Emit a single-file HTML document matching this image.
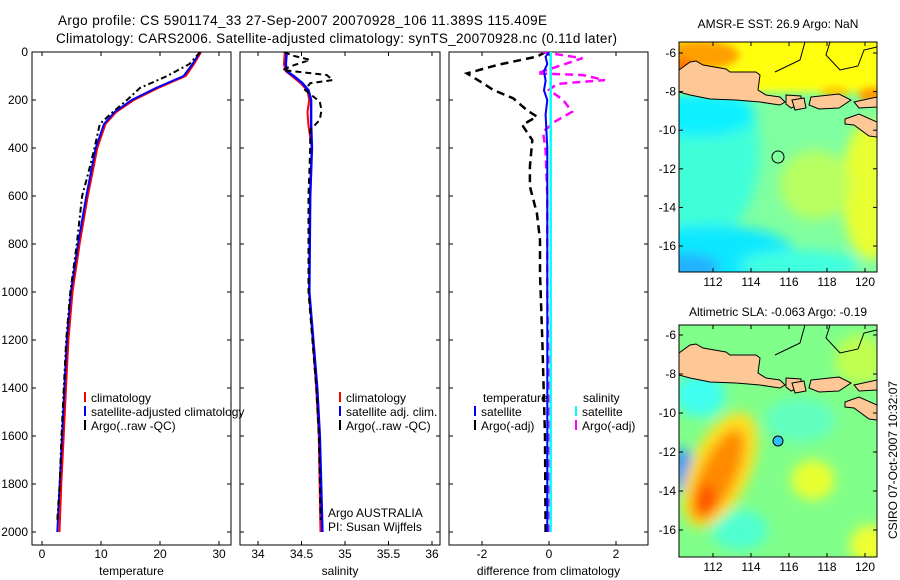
<!DOCTYPE html>
<html><head><meta charset="utf-8"><style>
html,body{margin:0;padding:0;background:#fff;}
svg{display:block;font-family:"Liberation Sans",sans-serif;}
</style></head><body>
<svg id="fig" width="900" height="580" viewBox="0 0 900 580">
<defs>
<clipPath id="c1"><rect x="32" y="52" width="199" height="493"/></clipPath>
<clipPath id="c2"><rect x="240" y="52" width="200" height="493"/></clipPath>
<clipPath id="c3"><rect x="449" y="52" width="199" height="493"/></clipPath>
<clipPath id="cm1"><rect x="679" y="42" width="198" height="230"/></clipPath>
<clipPath id="cm2"><rect x="679" y="325" width="198" height="232"/></clipPath>
<filter id="bl" x="-20%" y="-20%" width="140%" height="140%"><feGaussianBlur stdDeviation="6"/></filter>
<filter id="bl2" x="-20%" y="-20%" width="140%" height="140%"><feGaussianBlur stdDeviation="4"/></filter>
</defs>
<text x="58" y="25" font-size="13.5" textLength="489">Argo profile: CS 5901174_33 27-Sep-2007 20070928_106 11.389S 115.409E</text>
<text x="56" y="43" font-size="13.5" textLength="561">Climatology: CARS2006. Satellite-adjusted climatology: synTS_20070928.nc (0.11d later)</text>

<!-- SST map -->
<g>
<g clip-path="url(#cm1)">
<rect x="679" y="42" width="198" height="230" fill="#80ffa0"/>
<g filter="url(#bl)">
<ellipse cx="705" cy="150" rx="55" ry="90" fill="#40ffd8"/>
<ellipse cx="700" cy="115" rx="55" ry="22" fill="#10f0ff"/>
<ellipse cx="710" cy="255" rx="85" ry="30" fill="#10e8ff"/>
<ellipse cx="690" cy="268" rx="30" ry="14" fill="#20b0ff"/>
<ellipse cx="870" cy="190" rx="28" ry="70" fill="#e8ff30"/>
<ellipse cx="815" cy="185" rx="35" ry="35" fill="#b8ff60"/>
<ellipse cx="800" cy="265" rx="60" ry="15" fill="#40ffe0"/>
</g>
<g filter="url(#bl2)">
<rect x="660" y="30" width="240" height="62" fill="#ffff10"/>
<ellipse cx="700" cy="55" rx="40" ry="15" fill="#ffa000"/>
<ellipse cx="683" cy="70" rx="10" ry="12" fill="#ff7000"/>
<ellipse cx="872" cy="95" rx="14" ry="8" fill="#ff9a00"/>
<ellipse cx="835" cy="92" rx="15" ry="5" fill="#ffc000"/>
</g>
<g id="land1" fill="#fdc896" stroke="#000" stroke-width="1">
<polygon points="679,70 690,62 696,61 703,65 726,69 730,72 756,72 760,75 758,90 766,95 780,97 785,102 780,105 773,104 760,102 736,100 710,99 690,95 679,92"/>
<polygon points="786,95 801,96 801,104 791,108 786,104"/>
<polygon points="792,100 804,98 806,108 795,110"/>
<polygon points="811,97 839,94 851,100 839,108 819,109 809,105"/>
<polygon points="854,102 877,97 877,107 859,108"/>
<polygon points="845,119 859,114 877,122 877,137 869,136 854,125 845,124"/>
<polyline fill="none" points="805,42 800,60 775,72"/>
<polyline fill="none" points="830,42 826,55 840,70 858,66 864,50 877,47"/>
</g>
</g>
<rect x="679" y="42" width="198" height="230" fill="none" stroke="#000"/>
<circle cx="778" cy="157" r="6" fill="none" stroke="#000"/>
<text x="778" y="28" font-size="12" text-anchor="middle">AMSR-E SST: 26.9 Argo: NaN</text>
</g>

<!-- SLA map -->
<g>
<g clip-path="url(#cm2)">
<rect x="679" y="325" width="198" height="232" fill="#80ff8a"/>
<g filter="url(#bl)">
<ellipse cx="700" cy="395" rx="25" ry="22" fill="#40fff0"/>
<ellipse cx="683" cy="470" rx="10" ry="22" fill="#2090ff"/>
<ellipse cx="740" cy="530" rx="28" ry="20" fill="#50ffd0"/>
<ellipse cx="800" cy="420" rx="35" ry="22" fill="#60ffc0"/>
<ellipse cx="720" cy="470" rx="30" ry="62" transform="rotate(25 720 470)" fill="#ffe020"/>
<ellipse cx="718" cy="475" rx="18" ry="50" transform="rotate(25 718 475)" fill="#ff8a00"/>
<ellipse cx="706" cy="500" rx="10" ry="16" fill="#ff5000"/>
<ellipse cx="813" cy="480" rx="22" ry="20" fill="#e8ff30"/>
<ellipse cx="870" cy="545" rx="20" ry="20" fill="#f0ff30"/>
<ellipse cx="860" cy="360" rx="25" ry="25" fill="#c0ff50"/>
</g>
<use href="#land1" transform="translate(0,283)"/>
</g>
<rect x="679" y="325" width="198" height="232" fill="none" stroke="#000"/>
<circle cx="778" cy="441" r="5" fill="#30c0ff" stroke="#000"/>
<text x="778" y="316" font-size="12" text-anchor="middle">Altimetric SLA: -0.063 Argo: -0.19</text>
</g>
<text transform="translate(897,460) rotate(-90)" font-size="12" text-anchor="middle">CSIRO 07-Oct-2007 10:32:07</text>
</svg>
<script>
// ---- data ----
const depthTicks=[0,200,400,600,800,1000,1200,1400,1600,1800,2000];
const tempTicks=[0,10,20,30];
const salTicks=[34,34.5,35,35.5,36];
const diffTicks=[-2,0,2];
const sstLatTicks=[-6,-8,-10,-12,-14,-16];
const slaLatTicks=[-6,-8,-10,-12,-14,-16];
const lonTicks=[112,114,116,118,120];

const climDepth=[0,50,100,150,200,250,300,400,500,600,800,1000,1200,1400,1600,1800,2000];
const climTemp=[26.8,25.6,24.2,19.5,15.4,12.4,10.6,9.2,8.4,7.6,6.2,5.0,4.3,3.9,3.5,3.1,2.8];
const satTemp=[26.8,25.5,24.0,19.3,15.2,12.3,10.5,9.1,8.3,7.5,6.1,4.9,4.2,3.8,3.4,3.0,2.6];
const argoDepth=[0,50,100,150,200,250,300,400,500,600,800,1000,1200,1400,1600,1800,1950];
const argoTemp=[26.8,25.0,21.2,16.6,14.4,12.0,9.8,8.9,7.9,6.8,5.9,4.8,4.1,3.7,3.3,3.0,2.6];

const salDepth=[0,50,80,100,130,160,200,250,300,400,600,1000,1400,1600,2000];
const climSal=[34.32,34.31,34.33,34.40,34.50,34.58,34.60,34.58,34.59,34.63,34.61,34.60,34.68,34.71,34.73];
const satSal=[34.33,34.32,34.33,34.41,34.51,34.58,34.61,34.61,34.61,34.62,34.60,34.59,34.68,34.71,34.74];
const argoSalDepth=[0,15,33,54,75,96,117,130,158,207,242,283,325,400,600,1000,1400,1600,1950];
const argoSal=[34.30,34.40,34.60,34.42,34.28,34.79,34.86,34.60,34.54,34.71,34.73,34.71,34.60,34.60,34.58,34.58,34.67,34.70,34.72];

const diffDepth=[0,19,54,89,130,158,193,242,269,304,367,478,561,672,783,922,1200,1600,2000];
const tDiffArgo=[-0.1,-0.36,-1.55,-2.45,-1.97,-1.67,-1.07,-0.66,-0.36,-0.8,-0.5,-0.57,-0.57,-0.36,-0.27,-0.27,-0.2,-0.12,-0.1];
const sDiffDepth=[0,26,47,89,96,117,133,158,200,249,290,332,408,600,1000,1500,2000];
const sDiffArgo=[-0.2,1.0,0.54,-0.36,1.0,1.67,0.24,0.0,0.42,0.69,0.18,-0.18,-0.1,-0.05,-0.05,0.0,0.0];
const tDiffSatDepth=[0,20,50,80,120,160,200,260,400,2000];
const tDiffSat=[0,-0.1,-0.05,-0.15,-0.1,-0.15,-0.05,-0.1,-0.05,-0.05];
const sDiffSatDepth=[0,2000];
const sDiffSat=[0.05,0.05];

// ---- axes ----
const NS='http://www.w3.org/2000/svg';
const svg=document.getElementById('fig');
const yD=d=>52+d*0.24;
const xT=v=>42+v*5.9;
const xS=v=>258+(v-34)*87;
const xDf=v=>549+v*33.5;
function mk(tag,attrs,parent){const e=document.createElementNS(NS,tag);for(const k in attrs)e.setAttribute(k,attrs[k]);(parent||svg).appendChild(e);return e;}
function line(xs,ys,color,dash,w,clip,name){
  const pts=xs.map((x,i)=>x.toFixed(1)+','+ys[i].toFixed(1)).join(' ');
  const p=mk('polyline',{points:pts,fill:'none',stroke:color,'stroke-width':w||2,'clip-path':'url(#'+clip+')'});
  if(dash)p.setAttribute('stroke-dasharray',dash);
  
  
}
function panel(x0,w,ticks,xf,labels,name,title,yl){
  const f=mk('rect',{x:x0,y:52,width:w,height:493,fill:'none',stroke:'#000'});
  
  
  ticks.forEach((t,i)=>{const x=xf(t);
    mk('line',{x1:x,x2:x,y1:545,y2:541,stroke:'#000'});mk('line',{x1:x,x2:x,y1:52,y2:56,stroke:'#000'});
    const tx=mk('text',{x:x,y:558,'font-size':12,'text-anchor':'middle'});tx.textContent=labels[i];
    
    });
  depthTicks.forEach(d=>{const y=yD(d);
    mk('line',{x1:x0,x2:x0+4,y1:y,y2:y,stroke:'#000'});mk('line',{x1:x0+w,x2:x0+w-4,y1:y,y2:y,stroke:'#000'});
    if(yl){const tx=mk('text',{x:x0-4,y:y+4,'font-size':12,'text-anchor':'end'});tx.textContent=d;
      
      }});
  const t=mk('text',{x:x0+w/2,y:575,'font-size':12,'text-anchor':'middle'});t.textContent=title;
  
  
}
panel(32,199,tempTicks,xT,tempTicks,'temperature-panel','temperature',true);
panel(240,200,salTicks,xS,salTicks,'salinity-panel','salinity',false);
panel(449,199,diffTicks,xDf,diffTicks,'difference-panel','difference from climatology',false);

// temperature
line(climTemp.map(v=>xT(v)+1),climDepth.map(yD),'#f00',null,2,'c1','temp-climatology-line');
line(satTemp.map(xT),climDepth.map(yD),'#00f',null,2,'c1','temp-satellite-adjusted-line');
line(argoTemp.map(xT),argoDepth.map(yD),'#000','6,3,2,3',2,'c1','temp-argo-line');
// salinity
line(climSal.map(v=>xS(v)-1),salDepth.map(yD),'#f00',null,2,'c2','sal-climatology-line');
line(satSal.map(xS),salDepth.map(yD),'#00f',null,2.5,'c2','sal-satellite-adjusted-line');
line(argoSal.map(xS),argoSalDepth.map(yD),'#000','6,4',2,'c2','sal-argo-line');
// differences
line(tDiffArgo.map(xDf),diffDepth.map(yD),'#000','8,5',2.5,'c3','temp-diff-argo-line');
line(sDiffArgo.map(xDf),sDiffDepth.map(yD),'#f0f','8,5',2.5,'c3','sal-diff-argo-line');
line(tDiffSat.map(xDf),tDiffSatDepth.map(yD),'#00f',null,2,'c3','temp-diff-satellite-line');
line(sDiffSat.map(xDf),sDiffSatDepth.map(yD),'#0ff',null,2.5,'c3','sal-diff-satellite-line');

// map ticks
function mapTicks(x0,y0,w,h,lat0y,latStep,lats,name){
  lats.forEach((l,i)=>{const y=lat0y+i*latStep;
    mk('line',{x1:x0,x2:x0+4,y1:y,y2:y,stroke:'#000'});mk('line',{x1:x0+w,x2:x0+w-4,y1:y,y2:y,stroke:'#000'});
    const t=mk('text',{x:x0-3,y:y+4,'font-size':12,'text-anchor':'end'});t.textContent=l;
    
    });
  lonTicks.forEach(l=>{const x=713+(l-112)*19;
    mk('line',{x1:x,x2:x,y1:y0+h,y2:y0+h-4,stroke:'#000'});mk('line',{x1:x,x2:x,y1:y0,y2:y0+4,stroke:'#000'});
    const t=mk('text',{x:x,y:y0+h+14,'font-size':12,'text-anchor':'middle'});t.textContent=l;
    
    });
}
mapTicks(679,42,198,230,53,38.6,sstLatTicks,'sst-map');
mapTicks(679,325,198,232,335,39,slaLatTicks,'sla-map');

// legends
function leg(x,y,color,text,name){
  mk('line',{x1:x,x2:x,y1:y-10,y2:y,stroke:color,'stroke-width':2});
  const t=mk('text',{x:x+6,y:y,'font-size':12});t.textContent=text;
  
  
}
leg(85,402,'#f00','climatology','temp-legend-climatology');
leg(85,416,'#00f','satellite-adjusted climatology','temp-legend-satellite');
leg(85,430,'#000','Argo(..raw -QC)','temp-legend-argo');
leg(340,402,'#f00','climatology','sal-legend-climatology');
leg(340,416,'#00f','satellite adj. clim.','sal-legend-satellite');
leg(340,430,'#000','Argo(..raw -QC)','sal-legend-argo');
leg(475,416,'#00f','satellite','diff-legend-temp-satellite');
leg(475,430,'#000','Argo(-adj)','diff-legend-temp-argo');
leg(576,416,'#0ff','satellite','diff-legend-sal-satellite');
leg(576,430,'#f0f','Argo(-adj)','diff-legend-sal-argo');
[['temperature',483,'diff-legend-temp-heading'],['salinity',583,'diff-legend-sal-heading']].forEach(a=>{
  const t=mk('text',{x:a[1],y:402,'font-size':12});t.textContent=a[0];
  
  });
[['Argo AUSTRALIA',517,'argo-australia-label'],['PI: Susan Wijffels',531,'pi-label']].forEach(a=>{
  const t=mk('text',{x:328,y:a[1],'font-size':12});t.textContent=a[0];
  
  });
</script>
</body></html>
